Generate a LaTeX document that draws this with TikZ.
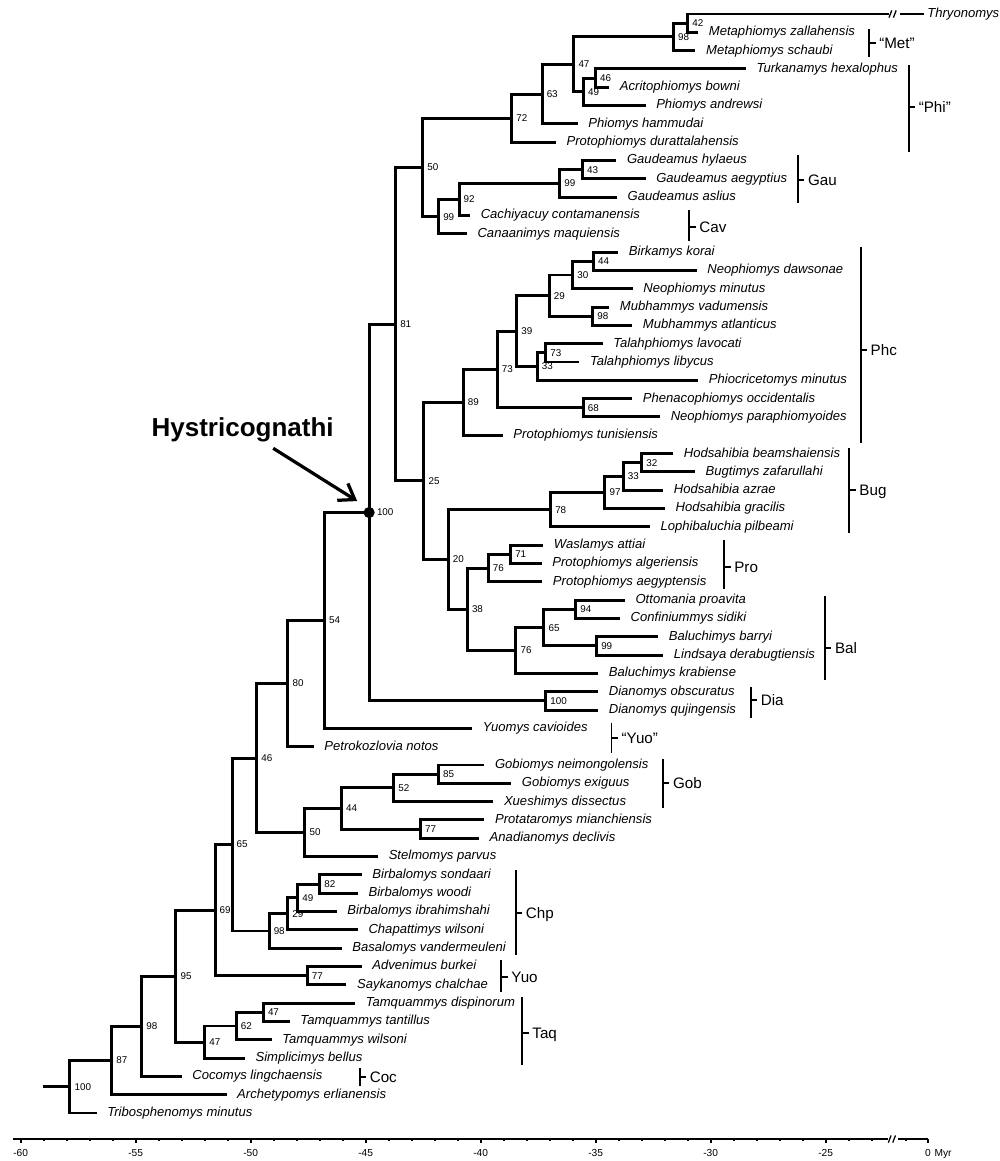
\documentclass[tikz,border=0pt]{standalone}
\usepackage{fontspec}
\setmainfont{Liberation Sans}
\usetikzlibrary{positioning,arrows.meta}

\tikzset{
  branch/.style={line width=2.1pt},
  bar/.style={line width=1.3pt},
  axis/.style={line width=1.3pt},
  taxon/.style={anchor=west, inner xsep=0.26cm, inner ysep=0pt, text height=0.17cm, text depth=0pt, font=\fontsize{9.3}{11}\selectfont\itshape},
  boot/.style={inner sep=0pt, font=\fontsize{7}{8}\selectfont},
  bs/.style={label={[boot,xshift=0.11cm]right:#1}},
  clade/.style={anchor=west, inner xsep=0.07cm, inner ysep=0pt, text height=7.7pt, text depth=0pt, font=\fontsize{10.8}{13}\selectfont},
  axislabel/.style={inner sep=0pt, text height=5.2pt, text depth=0pt, font=\fontsize{7.25}{9}\selectfont},
  pointer/.style={line width=2.3pt, -{Straight Barb[length=0.36cm,width=0.5cm]}},
  brk/.pic={\draw[line width=0.9pt] (-0.09cm,-0.09cm) -- (-0.02cm,0.09cm) (0.02cm,-0.09cm) -- (0.09cm,0.09cm);},
}

\begin{document}
\begin{tikzpicture}[x=0.575cm,y=-0.457925cm]
    \useasboundingbox (-60.9,0.2357) rectangle (-17.4217,63.62);

    % taxa (x = age of tip in Myr, y = row)
    \node[taxon, inner xsep=0.08cm] (thry) at (-20.73,1) {Thryonomys};
    \node[taxon] (mzal) at (-30.54,2) {Metaphiomys zallahensis};
    \node[taxon] (msch) at (-30.66,3) {Metaphiomys schaubi};
    \node[taxon] (turk) at (-28.47,4) {Turkanamys hexalophus};
    \node[taxon] (acri) at (-34.41,5) {Acritophiomys bowni};
    \node[taxon] (pand) at (-32.83,6) {Phiomys andrewsi};
    \node[taxon] (pham) at (-35.78,7) {Phiomys hammudai};
    \node[taxon] (pdur) at (-36.73,8) {Protophiomys durattalahensis};
    \node[taxon] (ghyl) at (-34.10,9) {Gaudeamus hylaeus};
    \node[taxon] (gaeg) at (-32.83,10) {Gaudeamus aegyptius};
    \node[taxon] (gasl) at (-34.07,11) {Gaudeamus aslius};
    \node[taxon] (ccon) at (-40.46,12) {Cachiyacuy contamanensis};
    \node[taxon] (cmaq) at (-40.60,13) {Canaanimys maquiensis};
    \node[taxon] (bkor) at (-34.02,14) {Birkamys korai};
    \node[taxon] (ndaw) at (-30.61,15) {Neophiomys dawsonae};
    \node[taxon] (nmin) at (-33.39,16) {Neophiomys minutus};
    \node[taxon] (mvad) at (-34.41,17) {Mubhammys vadumensis};
    \node[taxon] (matl) at (-33.41,18) {Mubhammys atlanticus};
    \node[taxon] (tlav) at (-34.70,19) {Talahphiomys lavocati};
    \node[taxon] (tlib) at (-35.71,20) {Talahphiomys libycus};
    \node[taxon] (pmin) at (-30.54,21) {Phiocricetomys minutus};
    \node[taxon] (pocc) at (-33.41,22) {Phenacophiomys occidentalis};
    \node[taxon] (npar) at (-32.20,23) {Neophiomys paraphiomyoides};
    \node[taxon] (ptun) at (-39.04,24) {Protophiomys tunisiensis};
    \node[taxon] (hbea) at (-31.63,25) {Hodsahibia beamshaiensis};
    \node[taxon] (bzaf) at (-30.68,26) {Bugtimys zafarullahi};
    \node[taxon] (hazr) at (-32.06,27) {Hodsahibia azrae};
    \node[taxon] (hgra) at (-31.99,28) {Hodsahibia gracilis};
    \node[taxon] (lpil) at (-32.64,29) {Lophibaluchia pilbeami};
    \node[taxon] (watt) at (-37.28,30) {Waslamys attiai};
    \node[taxon] (palg) at (-37.35,31) {Protophiomys algeriensis};
    \node[taxon] (paeg) at (-37.32,32) {Protophiomys aegyptensis};
    \node[taxon] (opro) at (-33.73,33) {Ottomania proavita};
    \node[taxon] (csid) at (-33.94,34) {Confiniummys sidiki};
    \node[taxon] (bbar) at (-32.28,35) {Baluchimys barryi};
    \node[taxon] (lder) at (-32.06,36) {Lindsaya derabugtiensis};
    \node[taxon] (bkra) at (-34.89,37) {Baluchimys krabiense};
    \node[taxon] (dobs) at (-34.89,38) {Dianomys obscuratus};
    \node[taxon] (dquj) at (-34.89,39) {Dianomys qujingensis};
    \node[taxon] (ycav) at (-40.37,40) {Yuomys cavioides};
    \node[taxon] (pnot) at (-47.26,41) {Petrokozlovia notos};
    \node[taxon] (gnei) at (-39.84,42) {Gobiomys neimongolensis};
    \node[taxon] (gexi) at (-38.67,43) {Gobiomys exiguus};
    \node[taxon] (xdis) at (-39.45,44) {Xueshimys dissectus};
    \node[taxon] (pmia) at (-39.84,45) {Protataromys mianchiensis};
    \node[taxon] (adec) at (-40.07,46) {Anadianomys declivis};
    \node[taxon] (spar) at (-44.46,47) {Stelmomys parvus};
    \node[taxon] (bson) at (-45.17,48) {Birbalomys sondaari};
    \node[taxon] (bwoo) at (-45.34,49) {Birbalomys woodi};
    \node[taxon] (bibr) at (-46.26,50) {Birbalomys ibrahimshahi};
    \node[taxon] (cwil) at (-45.34,51) {Chapattimys wilsoni};
    \node[taxon] (bvan) at (-46.04,52) {Basalomys vandermeuleni};
    \node[taxon] (abur) at (-45.17,53) {Advenimus burkei};
    \node[taxon] (scha) at (-45.84,54) {Saykanomys chalchae};
    \node[taxon] (tdis) at (-45.46,55) {Tamquammys dispinorum};
    \node[taxon] (ttan) at (-48.30,56) {Tamquammys tantillus};
    \node[taxon] (twil) at (-49.09,57) {Tamquammys wilsoni};
    \node[taxon] (sbel) at (-50.25,58) {Simplicimys bellus};
    \node[taxon] (clin) at (-53.00,59) {Cocomys lingchaensis};
    \node[taxon] (aerl) at (-51.05,60) {Archetypomys erlianensis};
    \node[taxon] (tmin) at (-56.70,61) {Tribosphenomys minutus};

    % internal nodes with support values
    \coordinate[bs=42] (n42) at (-31.00,1.5);
    \coordinate[bs=98] (n98m) at (-31.62,2.25);
    \coordinate[bs=46] (n46p) at (-35.01,4.5);
    \coordinate[bs=49] (n49p) at (-35.53,5.25);
    \coordinate[bs=47] (n47p) at (-35.95,3.75);
    \coordinate[bs=63] (n63) at (-37.33,5.375);
    \coordinate[bs=72] (n72) at (-38.65,6.688);
    \coordinate[bs=43] (n43) at (-35.57,9.5);
    \coordinate[bs=99] (n99g) at (-36.56,10.25);
    \coordinate[bs=92] (n92) at (-40.94,11.125);
    \coordinate[bs=99] (n99c) at (-41.83,12.063);
    \coordinate[bs=50] (n50) at (-42.52,9.375);
    \coordinate[bs=44] (n44) at (-35.10,14.5);
    \coordinate[bs=30] (n30) at (-36.00,15.25);
    \coordinate[bs=98] (n98mu) at (-35.13,17.5);
    \coordinate[bs=29] (n29) at (-37.02,16.375);
    \coordinate[bs=73] (n73t) at (-37.17,19.5);
    \coordinate[bs=33] (n33) at (-37.54,20.25);
    \coordinate[bs=39] (n39) at (-38.43,18.313);
    \coordinate[bs=68] (n68) at (-35.54,22.5);
    \coordinate[bs=73] (n73) at (-39.28,20.406);
    \coordinate[bs=89] (n89) at (-40.76,22.203);
    \coordinate[bs=32] (n32) at (-33.00,25.5);
    \coordinate[bs=33] (n33b) at (-33.80,26.25);
    \coordinate[bs=97] (n97) at (-34.60,27.125);
    \coordinate[bs=78] (n78) at (-36.96,28.063);
    \coordinate[bs=71] (n71) at (-38.70,30.5);
    \coordinate[bs=76] (n76p) at (-39.67,31.25);
    \coordinate[bs=94] (n94) at (-35.87,33.5);
    \coordinate[bs=99] (n99b) at (-34.96,35.5);
    \coordinate[bs=65] (n65b) at (-37.25,34.5);
    \coordinate[bs=76] (n76b) at (-38.47,35.75);
    \coordinate[bs=38] (n38) at (-40.58,33.5);
    \coordinate[bs=20] (n20) at (-41.41,30.781);
    \coordinate[bs=25] (n25) at (-42.47,26.492);
    \coordinate[bs=81] (n81) at (-43.70,17.934);
    \coordinate[bs=100] (n100d) at (-37.17,38.5);
    \coordinate[label={[boot,xshift=0.19cm]right:100}] (hys) at (-44.85,28.217);
    \coordinate[bs=54] (n54) at (-46.79,34.108);
    \coordinate[bs=80] (n80) at (-48.38,37.554);
    \coordinate[bs=85] (n85) at (-41.84,42.5);
    \coordinate[bs=52] (n52) at (-43.78,43.25);
    \coordinate[bs=77] (n77p) at (-42.62,45.5);
    \coordinate[bs=44] (n44g) at (-46.05,44.375);
    \coordinate[bs=50] (n50g) at (-47.64,45.688);
    \coordinate[bs=46] (n46) at (-49.74,41.621);
    \coordinate[bs=82] (n82) at (-47.00,48.5);
    \coordinate[bs=49] (n49c) at (-47.96,49.25);
    \coordinate[bs=29] (n29c) at (-48.39,50.125);
    \coordinate[bs=98] (n98c) at (-49.20,51.063);
    \coordinate[bs=65] (n65) at (-50.81,46.342);
    \coordinate[bs=77] (n77y) at (-47.54,53.5);
    \coordinate[bs=69] (n69) at (-51.55,49.921);
    \coordinate[bs=47] (n47t2) at (-49.45,55.5);
    \coordinate[bs=62] (n62) at (-50.63,56.25);
    \coordinate[bs=47] (n47t) at (-52.00,57.125);
    \coordinate[bs=95] (n95) at (-53.25,53.523);
    \coordinate[bs=98] (n98) at (-54.74,56.262);
    \coordinate[bs=87] (n87) at (-56.04,58.131);
    \coordinate[bs=100] (n100) at (-57.86,59.565);
    \coordinate (root) at (-59.03,59.565);
    \coordinate (thry-a) at (-22.24,1);
    \coordinate (thry-b) at (-21.76,1);

    % branches
    \draw[branch] (root) -- (n100);
    \draw[branch] (n100) |- (n87) (n100) |- (tmin);
    \draw[branch] (n87) |- (n98) (n87) |- (aerl);
    \draw[branch] (n98) |- (n95) (n98) |- (clin);
    \draw[branch] (n95) |- (n69) (n95) |- (n47t);
    \draw[branch] (n47t) |- (n62) (n47t) |- (sbel);
    \draw[branch] (n62) |- (n47t2) (n62) |- (twil);
    \draw[branch] (n47t2) |- (tdis) (n47t2) |- (ttan);
    \draw[branch] (n69) |- (n65) (n69) |- (n77y);
    \draw[branch] (n77y) |- (abur) (n77y) |- (scha);
    \draw[branch] (n65) |- (n46) (n65) |- (n98c);
    \draw[branch] (n98c) |- (n29c) (n98c) |- (bvan);
    \draw[branch] (n29c) |- (n49c) (n29c) |- (cwil);
    \draw[branch] (n49c) |- (n82) (n49c) |- (bibr);
    \draw[branch] (n82) |- (bson) (n82) |- (bwoo);
    \draw[branch] (n46) |- (n80) (n46) |- (n50g);
    \draw[branch] (n50g) |- (n44g) (n50g) |- (spar);
    \draw[branch] (n44g) |- (n52) (n44g) |- (n77p);
    \draw[branch] (n77p) |- (pmia) (n77p) |- (adec);
    \draw[branch] (n52) |- (n85) (n52) |- (xdis);
    \draw[branch] (n85) |- (gnei) (n85) |- (gexi);
    \draw[branch] (n80) |- (n54) (n80) |- (pnot);
    \draw[branch] (n54) |- (hys) (n54) |- (ycav);
    \draw[branch] (hys) |- (n81) (hys) |- (n100d);
    \draw[branch] (n100d) |- (dobs) (n100d) |- (dquj);
    \draw[branch] (n81) |- (n50) (n81) |- (n25);
    \draw[branch] (n25) |- (n89) (n25) |- (n20);
    \draw[branch] (n20) |- (n78) (n20) |- (n38);
    \draw[branch] (n38) |- (n76p) (n38) |- (n76b);
    \draw[branch] (n76b) |- (n65b) (n76b) |- (bkra);
    \draw[branch] (n65b) |- (n94) (n65b) |- (n99b);
    \draw[branch] (n99b) |- (bbar) (n99b) |- (lder);
    \draw[branch] (n94) |- (opro) (n94) |- (csid);
    \draw[branch] (n76p) |- (n71) (n76p) |- (paeg);
    \draw[branch] (n71) |- (watt) (n71) |- (palg);
    \draw[branch] (n78) |- (n97) (n78) |- (lpil);
    \draw[branch] (n97) |- (n33b) (n97) |- (hgra);
    \draw[branch] (n33b) |- (n32) (n33b) |- (hazr);
    \draw[branch] (n32) |- (hbea) (n32) |- (bzaf);
    \draw[branch] (n89) |- (n73) (n89) |- (ptun);
    \draw[branch] (n73) |- (n39) (n73) |- (n68);
    \draw[branch] (n68) |- (pocc) (n68) |- (npar);
    \draw[branch] (n39) |- (n29) (n39) |- (n33);
    \draw[branch] (n33) |- (n73t) (n33) |- (pmin);
    \draw[branch] (n73t) |- (tlav) (n73t) |- (tlib);
    \draw[branch] (n29) |- (n30) (n29) |- (n98mu);
    \draw[branch] (n98mu) |- (mvad) (n98mu) |- (matl);
    \draw[branch] (n30) |- (n44) (n30) |- (nmin);
    \draw[branch] (n44) |- (bkor) (n44) |- (ndaw);
    \draw[branch] (n50) |- (n72) (n50) |- (n99c);
    \draw[branch] (n99c) |- (n92) (n99c) |- (cmaq);
    \draw[branch] (n92) |- (n99g) (n92) |- (ccon);
    \draw[branch] (n99g) |- (n43) (n99g) |- (gasl);
    \draw[branch] (n43) |- (ghyl) (n43) |- (gaeg);
    \draw[branch] (n72) |- (n63) (n72) |- (pdur);
    \draw[branch] (n63) |- (n47p) (n63) |- (pham);
    \draw[branch] (n47p) |- (n98m) (n47p) |- (n49p);
    \draw[branch] (n49p) |- (n46p) (n49p) |- (pand);
    \draw[branch] (n46p) |- (turk) (n46p) |- (acri);
    \draw[branch] (n98m) |- (n42) (n98m) |- (msch);
    \draw[branch] (n42) |- (thry-a) (n42) |- (mzal);
    \draw[branch] (thry-b) -- (thry);
    \pic at (-22.09,1) {brk};
    \fill (hys) circle (0.14cm);

    % Hystricognathi
    \node[font=\fontsize{18.5}{22}\selectfont\bfseries, anchor=base] (hystri) at (-50.35,24.04) {Hystricognathi};
    \coordinate (arr-s) at (-49.02,24.71);
    \coordinate (arr-e) at (-45.37,27.59);
    \draw[pointer] (arr-s) -- (arr-e);

    % clade bars
    \draw[bar] (-23.11,1.83) -- (-23.11,3.36) (-23.11,2.60) -- ++(0.16cm,0cm) node[clade] (met) {``Met''};
    \draw[bar] (-21.39,3.78) -- (-21.39,8.52) (-21.39,6.09) -- ++(0.16cm,0cm) node[clade] (phi) {``Phi''};
    \draw[bar] (-26.20,8.70) -- (-26.20,11.33) (-26.20,10.06) -- ++(0.16cm,0cm) node[clade] (gau) {Gau};
    \draw[bar] (-30.93,11.70) -- (-30.93,13.38) (-30.93,12.61) -- ++(0.16cm,0cm) node[clade] (cav) {Cav};
    \draw[bar] (-23.48,13.74) -- (-23.48,24.40) (-23.48,19.34) -- ++(0.16cm,0cm) node[clade] (phc) {Phc};
    \draw[bar] (-23.97,24.71) -- (-23.97,29.35) (-23.97,26.99) -- ++(0.16cm,0cm) node[clade] (bug) {Bug};
    \draw[bar] (-29.41,29.72) -- (-29.41,32.41) (-29.41,31.17) -- ++(0.16cm,0cm) node[clade] (pro) {Pro};
    \draw[bar] (-25.03,32.77) -- (-25.03,37.36) (-25.03,35.63) -- ++(0.16cm,0cm) node[clade] (bal) {Bal};
    \draw[bar] (-28.26,37.73) -- (-28.26,39.45) (-28.26,38.45) -- ++(0.16cm,0cm) node[clade] (dia) {Dia};
    \draw[bar] (-34.31,39.69) -- (-34.31,41.36) (-34.31,40.54) -- ++(0.16cm,0cm) node[clade] (yuoq) {``Yuo''};
    \draw[bar] (-32.07,41.67) -- (-32.07,44.36) (-32.07,42.97) -- ++(0.16cm,0cm) node[clade] (gob) {Gob};
    \draw[bar] (-38.47,47.73) -- (-38.47,52.37) (-38.47,50.10) -- ++(0.16cm,0cm) node[clade] (chp) {Chp};
    \draw[bar] (-39.10,52.65) -- (-39.10,54.41) (-39.10,53.56) -- ++(0.16cm,0cm) node[clade] (yuo) {Yuo};
    \draw[bar] (-38.19,54.65) -- (-38.19,58.38) (-38.19,56.61) -- ++(0.16cm,0cm) node[clade] (taq) {Taq};
    \draw[bar] (-45.26,58.56) -- (-45.26,59.53) (-45.26,59.05) -- ++(0.16cm,0cm) node[clade] (coc) {Coc};

    % time axis
    \draw[axis] (-60.32,62.42) -- (-22.30,62.42) (-21.87,62.42) -- (-20.55,62.42);
    \pic at (-22.12,62.42) {brk};
    \foreach \t in {-59,...,-23}
        \draw[axis] (\t,62.42) -- ++(0cm,-0.055cm);
    \draw[axis] (-21.5,62.42) -- ++(0cm,-0.055cm);
    \foreach \t in {-60,-55,...,-25} {
        \draw[axis] (\t,62.42) -- ++(0cm,-0.11cm);
        \node[axislabel] (tick\t) at (\t,63.2) {\t};
    }
    \draw[axis] (-20.55,62.42) -- ++(0cm,-0.11cm);
    \node[axislabel] (tick0) at (-20.55,63.2) {0};
    \node[axislabel, right=0.08cm of tick0] (myr) {Myr};
\end{tikzpicture}
\end{document}
